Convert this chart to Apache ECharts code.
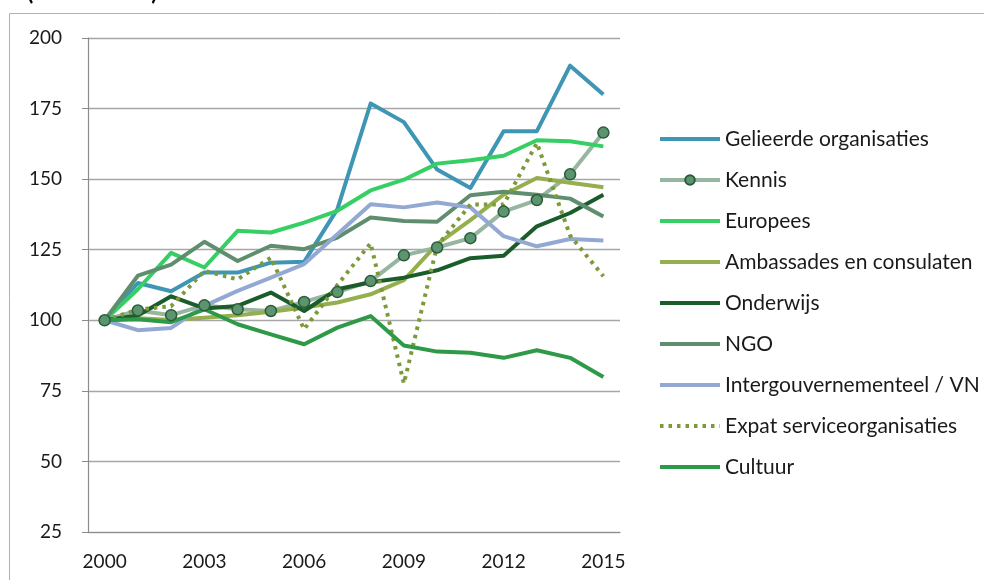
<!DOCTYPE html>
<html>
<head>
<meta charset="utf-8">
<script src="https://cdn.jsdelivr.net/npm/echarts@6/dist/echarts.min.js"></script>
<style>
  html, body { margin: 0; padding: 0; background: #fff; }
  #main { width: 984px; height: 580px; }
</style>
</head>
<body>
<div id="main"></div>
<script>
const years = ['2000', '2001', '2002', '2003', '2004', '2005', '2006', '2007',
  '2008', '2009', '2010', '2011', '2012', '2013', '2014', '2015'];

const gelieerde = [100, 113.2, 110.3, 116.9, 116.9, 120.4, 120.7, 139.4, 176.8, 170.2, 153.4, 146.9, 167, 167, 190.2, 180];
const kennis = [100, 103.5, 101.8, 105.3, 103.9, 103.3, 106.5, 110, 113.9, 123, 125.8, 129.1, 138.5, 142.6, 151.7, 166.5];
const europees = [100, 111, 123.9, 118.7, 131.7, 131.1, 134.6, 138.8, 146, 149.8, 155.5, 156.7, 158.3, 163.8, 163.4, 161.6];
const ambassades = [100, 100.7, 100.1, 100.9, 101.8, 103, 104.5, 106.3, 109.2, 114.2, 127, 135.5, 144.5, 150.4, 148.7, 147.1];
const onderwijs = [100, 101.7, 108.5, 104.2, 105.1, 109.8, 103.3, 111, 113.5, 115.1, 117.7, 122, 122.9, 133.3, 138, 144.5];
const ngo = [100, 115.8, 119.7, 127.8, 121, 126.4, 125.2, 129.3, 136.4, 135.2, 134.9, 144.3, 145.5, 144.5, 143.1, 136.8];
const intergouv = [100, 96.5, 97.3, 105.1, 110.4, 115.1, 119.9, 130.5, 141.1, 140, 141.7, 140, 129.8, 126.2, 128.8, 128.3];
const expat = [100, 103.8, 105, 117.5, 114.5, 122.2, 96.8, 112.5, 127.3, 77.6, 126.4, 141, 141, 162.8, 130, 115.6];
const cultuur = [100, 100.4, 99.3, 103.9, 98.6, 95, 91.5, 97.4, 101.5, 91.1, 88.9, 88.5, 86.7, 89.4, 86.7, 79.9];

const yTicks = { min: 25, max: 200, interval: 25 };

const myChart = echarts.init(document.getElementById('main'));
const fontFam = 'Lato, "Liberation Sans", sans-serif';

// line without markers; the transparent itemStyle hides the legend's dot
function lineSeries(name, data, color, extra) {
  return Object.assign({
    name: name,
    type: 'line',
    data: data,
    symbol: 'none',
    lineStyle: { color: color, width: 4, join: 'round' },
    itemStyle: { color: 'rgba(0,0,0,0)', borderColor: 'rgba(0,0,0,0)', borderWidth: 0 },
    emphasis: { disabled: true }
  }, extra || {});
}

const option = {
  animation: false,
  backgroundColor: '#fff',
  textStyle: { fontFamily: fontFam },
  title: {
    text: '(2000 = 100)',
    left: 22,
    top: -24,
    textStyle: { fontSize: 23, fontWeight: 'bold', color: '#000', fontFamily: fontFam }
  },
  graphic: [
    {
      type: 'polyline',
      shape: { points: [[9.5, 580], [9.5, 13.5], [984, 13.5]] },
      style: { stroke: '#B0B0B0', lineWidth: 1, fill: null },
      silent: true
    }
  ],
  grid: { left: 88, right: 364, top: 38, bottom: 48 },
  legend: {
    orient: 'vertical',
    left: 653,
    top: 123.5,
    itemWidth: 60,
    itemHeight: 12,
    itemGap: 20,
    itemTextGap: 5,
    selectedMode: false,
    lineStyle: { width: 4 },
    textStyle: { fontSize: 21, color: '#1a1a1a', fontFamily: fontFam }
  },
  xAxis: {
    type: 'category',
    data: years,
    boundaryGap: true,
    axisLine: { lineStyle: { color: '#8c8c8c', width: 1.2 } },
    axisTick: { interval: 0, length: 6, lineStyle: { color: '#8c8c8c' } },
    axisLabel: { interval: 2, margin: 20, fontSize: 19, color: '#1a1a1a' },
    splitLine: { show: false }
  },
  yAxis: {
    type: 'value',
    min: yTicks.min,
    max: yTicks.max,
    interval: yTicks.interval,
    axisLine: { show: true, lineStyle: { color: '#8c8c8c', width: 1.2 } },
    axisTick: { show: true, length: 6, lineStyle: { color: '#8c8c8c' } },
    axisLabel: { margin: 26, fontSize: 19, color: '#1a1a1a' },
    splitLine: { lineStyle: { color: '#a6a6a6', width: 1.3 } }
  },
  series: [
    lineSeries('Gelieerde organisaties', gelieerde, '#3f95b4'),
    lineSeries('Kennis', kennis, '#97b6a0', {
      symbol: 'circle',
      symbolSize: 11,
      itemStyle: { color: '#5c9470', borderColor: '#2b5c3a', borderWidth: 1.5 }
    }),
    lineSeries('Europees', europees, '#35cf63'),
    lineSeries('Ambassades en consulaten', ambassades, '#95af4e'),
    lineSeries('Onderwijs', onderwijs, '#1b5c2b'),
    lineSeries('NGO', ngo, '#5f8e6e'),
    lineSeries('Intergouvernementeel / VN', intergouv, '#93a9d4'),
    lineSeries('Expat serviceorganisaties', expat, '#7d9a3a', {
      lineStyle: { color: '#7d9a3a', width: 4, type: [3.5, 5], cap: 'butt' }
    }),
    lineSeries('Cultuur', cultuur, '#2e9a48')
  ]
};

option && myChart.setOption(option);
</script>
</body>
</html>
